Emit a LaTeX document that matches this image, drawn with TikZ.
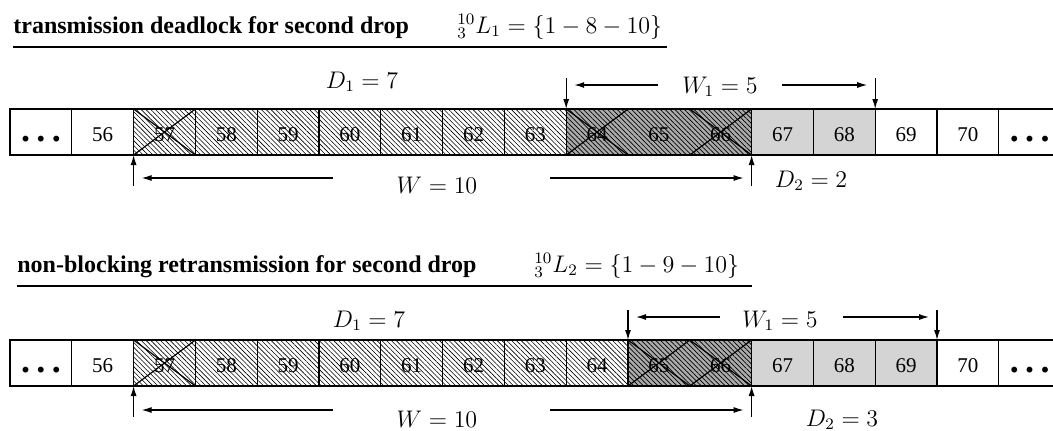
\documentclass[tikz,border=0pt]{standalone}
\usepackage{amsmath,amssymb}
\usepackage{fontspec}
\setmainfont{Liberation Serif}
\usepackage{tikz}
\usetikzlibrary{arrows.meta,patterns.meta,positioning,calc}

\newcommand{\celldots}{.\kern3.2pt.\kern3.2pt.}

\begin{document}
\begin{tikzpicture}[
    x=0.5pt, y=-0.5pt,
    cell/.style={rectangle, draw, line width=0.6pt, anchor=north west, minimum width=30.9pt, minimum height=23pt, inner sep=0pt, outer sep=0pt, text height=10pt, font=\fontsize{10.5}{12}\selectfont},
    blank/.style={},
    hatch/.style={pattern={Lines[angle=-45,distance=1.7pt,line width=0.3pt]}},
    dark/.style={draw=none, preaction={fill=black!33}, pattern={Lines[angle=-45,distance=1.7pt,line width=0.35pt]}},
    light/.style={fill=black!17},
    dots/.style={font=\fontsize{18}{18}\bfseries\selectfont},
    title/.style={anchor=base west, inner sep=0pt, font=\fontsize{12}{14}\bfseries\selectfont},
    formula/.style={anchor=base west, inner sep=0pt, font=\fontsize{12}{14}\selectfont},
    lbl/.style={anchor=base, inner sep=0pt, font=\fontsize{12}{14}\selectfont},
    line/.style={draw, line width=0.6pt, -{Latex[length=5pt,width=3pt]}},
    rule/.style={draw, line width=0.7pt},
    cross/.style={draw, line width=0.6pt}
]
    \useasboundingbox (0,0) rectangle (1053,430);

    % Case 1: deadlock
    \node [title] (title1) at (13,33) {transmission deadlock for second drop};
    \node [formula] (list1) at (457,33) {${}^{10}_{3}L_1=\{1-8-10\}$};
    \coordinate (u1a) at (13,47);
    \coordinate (u1b) at (667,47);
    \path [rule] (u1a) -- (u1b);

    \node [cell,dots] (aL) at (10,109) {\celldots};
    \foreach \n/\s [count=\i] in {56/blank,57/hatch,58/hatch,59/hatch,60/hatch,61/hatch,62/hatch,63/hatch,64/dark,65/dark,66/dark,67/light,68/light,69/blank,70/blank}
        \node [cell,\s] (a\n) at ({10+61.8*\i},109) {\n};
    \node [cell,dots] (aR) at ({10+61.8*16},109) {\celldots};

    \path [cross] (a57.north west) -- (a57.south east) (a57.south west) -- (a57.north east);
    \path [cross] (a64.north west) -- (a64.south east) (a64.south west) -- (a64.north east);
    \path [cross] (a66.north west) -- (a66.south east) (a66.south west) -- (a66.north east);
    \path [cross] (a64.north west) rectangle (a66.south east);

    \node [lbl] (ad1) at (362,88) {$D_1=7$};
    \node [lbl] (aw1) at (720,93) {$W_1=5$};
    \node [lbl] (aw) at (437,193) {$W=10$};
    \node [lbl] (ad2) at (811,187) {$D_2=2$};

    \coordinate (ahi) at (0,78);
    \coordinate (alo) at (0,186);
    \coordinate (aw1l) at (658,85);
    \coordinate (aw1r) at (782,85);
    \coordinate (awl) at (333,178);
    \coordinate (awr) at (550,178);

    \path [line] (a64.north west |- ahi) -- (a64.north west);
    \path [line] (a69.north west |- ahi) -- (a69.north west);
    \path [line] (a57.south west |- alo) -- (a57.south west);
    \path [line] (a67.south west |- alo) -- (a67.south west);
    \path [line] (aw1l) -- ($(a64.north west |- aw1l)+(8,0)$);
    \path [line] (aw1r) -- ($(a69.north west |- aw1r)+(-8,0)$);
    \path [line] (awl) -- ($(a57.south west |- awl)+(8,0)$);
    \path [line] (awr) -- ($(a67.south west |- awr)+(-8,0)$);

    % Case 2: non-blocking
    \node [title] (title2) at (17,272) {non-blocking retransmission for second drop};
    \node [formula] (list2) at (534,272) {${}^{10}_{3}L_2=\{1-9-10\}$};
    \coordinate (u2a) at (17,286);
    \coordinate (u2b) at (752,286);
    \path [rule] (u2a) -- (u2b);

    \node [cell,dots] (bL) at (10,340) {\celldots};
    \foreach \n/\s [count=\i] in {56/blank,57/hatch,58/hatch,59/hatch,60/hatch,61/hatch,62/hatch,63/hatch,64/hatch,65/dark,66/dark,67/light,68/light,69/light,70/blank}
        \node [cell,\s] (b\n) at ({10+61.8*\i},340) {\n};
    \node [cell,dots] (bR) at ({10+61.8*16},340) {\celldots};

    \path [cross] (b57.north west) -- (b57.south east) (b57.south west) -- (b57.north east);
    \path [cross] (b65.north west) -- (b65.south east) (b65.south west) -- (b65.north east);
    \path [cross] (b66.north west) -- (b66.south east) (b66.south west) -- (b66.north east);
    \path [cross] (b65.north west) rectangle (b66.south east);

    \node [lbl] (bd1) at (369,327) {$D_1=7$};
    \node [lbl] (bw1) at (780,327) {$W_1=5$};
    \node [lbl] (bw) at (437,427) {$W=10$};
    \node [lbl] (bd2) at (842,426) {$D_2=3$};

    \coordinate (bhi) at (0,310);
    \coordinate (blo) at (0,417);
    \coordinate (bw1l) at (720,317);
    \coordinate (bw1r) at (843,317);
    \coordinate (bwl) at (333,410);
    \coordinate (bwr) at (550,410);

    \path [line] (b65.north west |- bhi) -- (b65.north west);
    \path [line] (b70.north west |- bhi) -- (b70.north west);
    \path [line] (b57.south west |- blo) -- (b57.south west);
    \path [line] (b67.south west |- blo) -- (b67.south west);
    \path [line] (bw1l) -- ($(b65.north west |- bw1l)+(8,0)$);
    \path [line] (bw1r) -- ($(b70.north west |- bw1r)+(-8,0)$);
    \path [line] (bwl) -- ($(b57.south west |- bwl)+(8,0)$);
    \path [line] (bwr) -- ($(b67.south west |- bwr)+(-8,0)$);

\end{tikzpicture}
\end{document}
